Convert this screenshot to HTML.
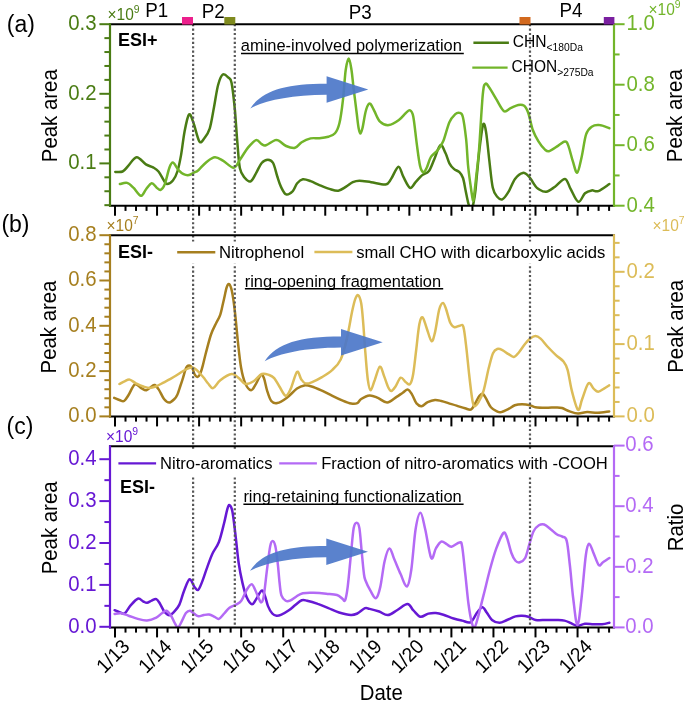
<!DOCTYPE html>
<html><head><meta charset="utf-8"><style>
html,body{margin:0;padding:0;background:#fff;width:685px;height:702px;overflow:hidden}
svg{display:block;font-family:"Liberation Sans",sans-serif;will-change:transform}
</style></head><body>
<svg width="685" height="702" viewBox="0 0 685 702">
<clipPath id="clipa"><rect x="110" y="24.2" width="504" height="181.5"/></clipPath>
<clipPath id="clipb"><rect x="110" y="235.2" width="504" height="181.2"/></clipPath>
<clipPath id="clipc"><rect x="110" y="446.3" width="504" height="181.09999999999997"/></clipPath>
<path d="M115.3,171.9 C116.5,171.8 120.5,172.4 122.6,171.5 C124.7,170.6 125.7,168.6 128.0,166.2 C130.3,163.8 133.6,157.5 136.6,157.2 C139.6,156.9 143.2,162.7 145.9,164.4 C148.7,166.1 151.0,166.2 153.1,167.4 C155.2,168.6 156.7,169.3 158.5,171.5 C160.3,173.7 162.5,178.4 163.9,180.5 C165.3,182.6 165.6,184.1 167.1,184.1 C168.6,184.1 171.2,182.6 172.9,180.5 C174.6,178.4 176.1,175.7 177.4,171.5 C178.8,167.3 179.8,162.0 181.0,155.4 C182.2,148.8 183.2,138.8 184.5,132.0 C185.8,125.2 187.5,116.0 189.0,114.5 C190.5,113.0 191.8,118.5 193.5,123.0 C195.2,127.5 197.6,139.0 199.4,141.5 C201.2,144.0 202.8,140.2 204.5,138.0 C206.2,135.8 208.1,133.6 209.7,128.6 C211.3,123.6 212.5,115.1 213.9,107.8 C215.3,100.5 216.6,90.5 218.1,85.0 C219.6,79.5 221.1,75.8 222.8,74.6 C224.5,73.4 227.0,76.3 228.5,77.7 C230.0,79.1 230.6,77.9 231.6,82.9 C232.6,87.9 233.7,97.8 234.7,107.8 C235.7,117.8 236.5,133.1 237.4,143.2 C238.3,153.3 238.7,162.5 239.9,168.2 C241.1,173.9 242.7,175.3 244.5,177.5 C246.3,179.7 248.7,182.2 250.7,181.3 C252.7,180.4 254.7,175.4 256.5,172.3 C258.3,169.2 259.8,165.1 261.7,163.0 C263.6,160.9 266.0,159.8 267.9,159.8 C269.8,159.8 271.5,160.2 273.1,163.0 C274.7,165.8 276.0,172.5 277.3,176.5 C278.6,180.5 279.5,183.9 281.0,186.9 C282.5,189.9 284.1,193.7 286.1,194.4 C288.1,195.1 291.0,192.9 292.8,191.1 C294.6,189.2 295.5,185.3 297.2,183.3 C298.9,181.3 300.6,179.7 302.8,179.3 C305.0,178.9 307.8,180.1 310.6,181.1 C313.4,182.1 316.3,183.8 319.4,185.1 C322.5,186.4 326.2,188.0 329.4,188.9 C332.5,189.8 335.5,191.1 338.3,190.7 C341.1,190.3 343.7,188.1 346.1,186.7 C348.5,185.3 350.6,183.2 352.8,182.2 C355.0,181.2 356.3,180.7 359.4,180.7 C362.4,180.7 366.7,181.6 371.1,182.2 C375.5,182.8 382.3,184.9 385.6,184.4 C388.9,183.9 389.0,181.9 391.1,178.9 C393.2,175.9 396.4,167.1 398.4,166.7 C400.4,166.3 401.4,173.2 403.3,176.7 C405.2,180.2 407.9,186.9 410.0,187.8 C412.1,188.7 413.6,184.3 415.6,182.2 C417.6,180.1 420.0,176.9 422.2,175.1 C424.4,173.2 426.9,173.8 428.9,171.1 C430.9,168.4 432.5,163.2 434.4,158.9 C436.3,154.6 438.5,146.0 440.4,145.1 C442.3,144.2 444.1,150.3 445.6,153.3 C447.1,156.3 448.0,160.7 449.4,163.3 C450.8,165.9 452.2,167.4 453.9,168.9 C455.6,170.4 457.9,170.7 459.4,172.2 C460.9,173.7 462.0,175.1 463.0,178.0 C464.0,180.9 464.6,185.6 465.5,189.9 C466.4,194.2 467.6,200.8 468.5,204.0 C469.4,207.2 470.2,209.2 471.0,209.0 C471.8,208.8 472.8,206.2 473.5,203.0 C474.2,199.8 474.9,195.5 475.5,190.0 C476.1,184.5 476.6,177.5 477.4,170.0 C478.1,162.5 479.0,152.6 480.0,145.0 C481.0,137.4 482.2,126.5 483.2,124.4 C484.2,122.3 485.1,126.1 486.1,132.2 C487.1,138.3 488.3,151.8 489.4,161.1 C490.5,170.4 491.5,181.9 492.8,187.8 C494.1,193.7 495.6,194.8 497.2,196.7 C498.8,198.6 500.4,200.1 502.3,199.3 C504.2,198.6 506.2,195.6 508.3,192.2 C510.4,188.8 512.6,182.1 515.0,178.9 C517.4,175.7 520.5,173.3 522.8,172.9 C525.1,172.5 527.0,174.6 529.0,176.7 C531.0,178.8 533.5,183.6 535.0,185.6 C536.5,187.6 536.4,187.9 538.3,188.9 C540.1,189.9 543.3,192.2 546.1,191.8 C548.9,191.4 551.9,188.8 555.0,186.7 C558.1,184.5 562.4,178.5 565.0,178.9 C567.6,179.3 568.4,185.1 570.6,188.9 C572.8,192.7 575.9,201.1 578.3,201.8 C580.7,202.5 582.8,195.2 585.0,193.3 C587.2,191.4 589.5,190.8 591.7,190.4 C593.9,190.0 595.3,192.2 598.3,191.1 C601.2,190.0 607.5,185.2 609.4,184.0" fill="none" stroke="#4a7c14" stroke-width="2.5" stroke-linejoin="round" stroke-linecap="round" clip-path="url(#clipa)"/>
<path d="M119.9,184.1 C121.1,183.9 124.8,182.3 127.1,182.9 C129.3,183.5 131.1,185.5 133.4,187.7 C135.7,189.8 138.8,195.5 140.9,195.8 C143.0,196.1 144.1,191.6 145.9,189.5 C147.7,187.4 149.9,183.5 151.7,183.2 C153.5,182.9 155.2,186.6 156.7,187.7 C158.2,188.8 159.3,190.5 160.7,189.9 C162.0,189.3 163.4,187.8 164.8,184.1 C166.2,180.4 168.0,171.6 169.3,168.0 C170.7,164.4 171.4,162.3 172.9,162.6 C174.4,162.9 176.5,167.9 178.3,169.8 C180.1,171.7 181.8,173.3 183.6,174.2 C185.4,175.1 187.2,175.4 189.0,175.1 C190.8,174.8 192.8,173.2 194.4,172.4 C196.0,171.6 196.3,171.9 198.3,170.2 C200.3,168.4 203.8,164.1 206.6,161.9 C209.4,159.8 212.1,157.5 214.9,157.3 C217.7,157.1 220.2,159.2 223.3,160.9 C226.4,162.6 230.8,167.9 233.6,167.7 C236.4,167.5 237.5,163.2 239.9,159.8 C242.3,156.4 245.5,150.7 248.2,147.4 C250.9,144.1 253.9,140.6 256.1,140.1 C258.4,139.6 260.1,143.3 261.7,144.2 C263.3,145.1 263.6,146.0 265.9,145.3 C268.1,144.6 272.9,140.8 275.2,140.1 C277.4,139.4 277.6,140.1 279.4,141.1 C281.2,142.1 283.5,144.9 286.1,146.0 C288.7,147.1 292.4,148.4 295.0,147.8 C297.6,147.2 299.1,143.8 301.7,142.2 C304.3,140.6 307.7,139.1 310.6,138.4 C313.6,137.7 316.4,138.5 319.4,138.2 C322.3,137.9 325.7,137.5 328.3,136.7 C330.9,135.9 333.1,135.5 335.0,133.3 C336.9,131.1 338.1,128.7 339.4,123.3 C340.7,117.9 341.8,110.0 342.8,101.1 C343.9,92.2 344.7,77.1 345.7,70.0 C346.7,62.9 347.8,58.6 348.8,58.6 C349.8,58.6 350.7,65.0 351.5,70.0 C352.3,75.0 352.7,81.2 353.6,88.5 C354.5,95.8 356.0,107.4 356.8,114.0 C357.6,120.6 358.0,124.7 358.6,128.0 C359.2,131.3 359.8,133.6 360.4,133.6 C361.0,133.6 361.7,131.3 362.5,128.0 C363.3,124.7 364.3,117.7 365.1,114.0 C365.9,110.3 366.6,107.7 367.5,106.0 C368.4,104.3 369.2,103.0 370.3,103.8 C371.4,104.6 372.8,108.1 374.4,111.1 C376.0,114.1 377.6,119.3 380.0,121.6 C382.4,123.9 385.8,125.4 388.9,125.1 C392.0,124.8 396.1,122.0 398.9,120.0 C401.7,118.0 403.8,114.9 405.6,113.3 C407.5,111.7 408.7,109.8 410.0,110.4 C411.3,111.0 412.2,111.2 413.3,116.7 C414.4,122.2 415.6,135.2 416.7,143.3 C417.8,151.5 418.9,160.8 420.0,165.6 C421.1,170.4 422.2,171.8 423.3,172.2 C424.4,172.6 425.4,170.4 426.7,167.8 C428.0,165.2 429.2,159.7 431.1,156.7 C433.0,153.7 435.8,152.6 437.8,150.0 C439.8,147.4 441.4,145.7 443.3,141.1 C445.2,136.5 447.4,126.7 449.4,122.2 C451.3,117.8 453.3,116.0 455.0,114.4 C456.7,112.9 458.1,112.5 459.4,112.9 C460.7,113.3 461.7,112.4 462.8,116.7 C463.9,121.0 465.2,130.9 466.1,138.9 C467.0,146.9 467.3,157.2 468.0,164.9 C468.7,172.6 469.7,179.0 470.5,184.9 C471.3,190.8 472.4,199.2 473.0,200.5 C473.6,201.8 473.8,197.1 474.4,192.8 C475.0,188.5 475.6,182.0 476.4,174.9 C477.2,167.8 477.9,163.4 479.0,150.0 C480.1,136.6 481.7,105.4 482.8,94.4 C483.9,83.4 484.3,84.9 485.4,83.8 C486.5,82.7 487.6,85.3 489.4,87.8 C491.2,90.3 493.7,95.0 496.1,98.9 C498.5,102.8 501.5,109.5 503.9,111.1 C506.3,112.6 508.2,109.2 510.6,108.2 C513.0,107.2 516.1,105.3 518.3,104.9 C520.5,104.5 522.2,104.2 523.9,105.6 C525.6,106.9 526.8,108.9 528.3,113.0 C529.8,117.1 531.1,125.3 532.8,130.0 C534.5,134.7 536.3,137.8 538.3,141.1 C540.3,144.4 543.1,147.9 545.0,149.6 C546.9,151.3 547.2,151.8 549.4,151.1 C551.6,150.4 555.7,147.2 558.3,145.6 C560.9,144.0 563.3,141.6 565.0,141.6 C566.7,141.6 567.0,142.3 568.3,145.6 C569.6,148.8 571.3,156.6 572.8,161.1 C574.3,165.6 575.7,173.4 577.2,172.7 C578.7,172.0 580.2,163.1 581.7,156.7 C583.2,150.3 584.4,139.4 586.1,134.4 C587.8,129.4 589.5,128.2 591.7,126.7 C593.9,125.2 596.5,124.8 599.4,125.1 C602.3,125.3 607.7,127.7 609.4,128.2" fill="none" stroke="#72b52a" stroke-width="2.5" stroke-linejoin="round" stroke-linecap="round" clip-path="url(#clipa)"/>
<path d="M114.2,397.9 C115.1,398.2 117.8,399.5 119.4,400.0 C121.1,400.5 122.5,401.9 124.1,401.0 C125.6,400.1 126.9,397.6 128.7,394.8 C130.5,392.0 132.8,385.5 134.9,384.4 C137.0,383.3 139.3,387.1 141.2,388.1 C143.1,389.1 144.7,390.5 146.4,390.2 C148.1,389.9 150.2,387.4 151.6,386.5 C153.0,385.6 153.5,384.5 154.7,385.0 C155.9,385.5 157.2,387.3 158.8,389.6 C160.4,391.9 162.3,396.9 164.0,399.0 C165.7,401.1 167.5,402.5 169.2,402.5 C170.9,402.5 173.1,400.2 174.4,399.0 C175.7,397.8 176.2,397.2 177.2,395.0 C178.2,392.8 179.5,388.4 180.5,385.5 C181.5,382.6 182.3,380.2 183.1,377.6 C183.9,375.0 184.7,371.6 185.4,369.7 C186.1,367.8 186.5,367.1 187.1,366.4 C187.7,365.7 188.4,365.4 189.1,365.4 C189.8,365.4 190.3,365.7 191.0,366.4 C191.7,367.1 192.4,368.4 193.0,369.7 C193.6,371.0 193.9,373.1 194.6,374.3 C195.3,375.5 196.5,376.8 197.3,376.9 C198.1,377.0 198.9,376.0 199.6,375.0 C200.2,374.0 200.6,372.6 201.2,371.0 C201.8,369.4 202.1,368.1 202.9,365.1 C203.7,362.1 204.5,358.3 205.8,353.2 C207.2,348.1 209.3,339.5 211.0,334.5 C212.7,329.5 214.6,326.3 216.2,323.0 C217.8,319.7 219.1,318.3 220.3,314.7 C221.5,311.1 222.4,305.7 223.5,301.2 C224.6,296.7 225.7,290.5 226.6,287.7 C227.5,284.9 228.2,283.6 229.1,284.1 C230.0,284.6 230.8,286.2 231.8,290.8 C232.8,295.4 233.9,302.9 234.9,311.6 C235.9,320.3 237.0,333.4 238.0,342.8 C239.0,352.2 239.9,361.0 241.1,367.8 C242.3,374.6 243.6,379.7 245.3,383.4 C247.0,387.1 249.4,390.0 251.1,390.2 C252.8,390.4 254.1,386.9 255.7,384.4 C257.3,381.9 259.5,376.0 260.9,375.0 C262.3,374.0 263.0,375.6 264.0,378.2 C265.0,380.8 265.9,386.8 267.1,390.6 C268.3,394.4 269.6,398.9 271.3,401.0 C273.0,403.1 274.8,403.6 277.3,403.1 C279.9,402.6 283.3,400.3 286.6,397.9 C289.9,395.5 294.1,390.7 297.0,388.6 C299.9,386.5 301.9,385.8 304.3,385.4 C306.7,385.0 308.7,385.6 311.6,386.5 C314.6,387.4 318.5,389.1 322.0,390.6 C325.5,392.2 328.9,394.1 332.4,395.8 C335.8,397.5 339.6,399.3 342.7,400.6 C345.8,401.9 348.7,403.1 351.1,403.5 C353.5,403.9 355.6,403.9 357.3,403.1 C359.0,402.4 359.1,400.3 361.2,399.0 C363.2,397.7 366.8,395.6 369.6,395.4 C372.4,395.2 375.0,396.7 377.9,397.9 C380.8,399.1 384.1,402.7 387.2,402.5 C390.3,402.3 394.0,398.5 396.6,396.9 C399.2,395.3 400.9,393.9 402.8,392.7 C404.7,391.5 406.4,389.2 408.0,389.6 C409.6,390.0 410.8,392.6 412.2,394.8 C413.6,397.1 414.8,401.2 416.3,403.1 C417.9,405.0 419.6,406.4 421.5,406.2 C423.4,406.0 425.4,403.1 427.7,402.1 C429.9,401.1 432.7,400.2 435.0,400.0 C437.3,399.8 439.1,400.5 441.3,401.0 C443.5,401.5 445.8,402.3 448.3,403.1 C450.9,403.9 453.8,404.7 456.6,405.6 C459.4,406.5 462.6,407.7 465.0,408.3 C467.4,408.9 469.5,410.3 471.2,409.4 C472.9,408.5 473.9,405.4 475.3,403.1 C476.7,400.8 478.3,397.4 479.5,395.8 C480.7,394.2 481.6,393.5 482.6,393.8 C483.6,394.1 484.3,395.6 485.7,397.9 C487.1,400.1 489.0,405.1 490.9,407.3 C492.8,409.6 495.5,410.6 497.2,411.4 C498.9,412.2 499.4,412.5 501.3,412.1 C503.2,411.7 506.4,410.0 508.6,408.9 C510.9,407.8 512.5,406.0 514.8,405.2 C517.0,404.4 519.6,404.2 522.1,404.2 C524.6,404.2 527.8,404.7 530.0,405.2 C532.2,405.7 532.8,406.9 535.4,407.3 C538.0,407.7 542.3,407.8 545.8,407.8 C549.3,407.8 553.5,407.4 556.2,407.4 C558.9,407.4 559.8,407.3 562.0,408.0 C564.2,408.7 567.0,410.5 569.7,411.4 C572.4,412.3 575.0,413.4 578.0,413.5 C581.0,413.6 584.1,412.2 587.4,412.1 C590.7,412.0 594.1,412.8 597.7,412.7 C601.3,412.6 607.3,411.6 609.2,411.4" fill="none" stroke="#a67f1f" stroke-width="2.5" stroke-linejoin="round" stroke-linecap="round" clip-path="url(#clipb)"/>
<path d="M119.4,384.0 C120.2,383.6 122.8,382.0 124.5,381.3 C126.2,380.6 127.8,379.2 129.7,379.6 C131.6,380.0 133.7,382.2 136.0,383.4 C138.3,384.5 141.1,385.8 143.3,386.5 C145.6,387.2 147.4,387.9 149.5,387.9 C151.6,387.9 153.3,387.4 155.7,386.5 C158.1,385.6 161.6,383.5 164.0,382.3 C166.4,381.1 167.9,380.4 170.0,379.2 C172.1,378.0 174.4,376.7 176.6,375.3 C178.8,373.9 181.0,372.2 183.1,371.0 C185.2,369.8 187.4,368.7 189.1,368.1 C190.8,367.6 191.8,367.4 193.0,367.7 C194.2,368.0 195.2,368.8 196.3,369.7 C197.4,370.6 198.3,371.6 199.6,373.0 C200.9,374.4 202.8,376.6 204.2,378.3 C205.6,380.1 206.6,381.9 208.1,383.5 C209.6,385.1 211.1,388.7 213.1,388.1 C215.1,387.6 217.2,382.6 220.3,380.2 C223.4,377.8 228.7,374.3 231.8,374.0 C234.9,373.7 236.8,376.5 239.0,378.2 C241.2,379.9 242.9,383.5 245.3,384.0 C247.7,384.5 250.8,383.0 253.6,381.3 C256.4,379.6 259.3,375.1 261.9,374.0 C264.5,372.9 267.1,374.3 269.2,375.0 C271.2,375.7 272.5,376.3 274.2,378.2 C275.9,380.1 277.5,383.6 279.4,386.5 C281.3,389.4 283.7,395.4 285.6,395.8 C287.5,396.2 288.9,392.6 290.8,388.6 C292.7,384.6 295.3,373.5 297.0,371.9 C298.7,370.3 299.8,377.3 301.2,379.2 C302.6,381.1 303.6,382.9 305.3,383.4 C307.0,383.9 308.8,383.4 311.6,382.3 C314.4,381.2 318.5,379.2 322.0,377.1 C325.5,375.0 329.3,372.8 332.4,369.8 C335.5,366.9 338.3,364.6 340.7,359.4 C343.1,354.2 345.0,346.6 346.9,338.6 C348.8,330.6 350.7,318.2 352.1,311.6 C353.5,305.0 354.2,301.8 355.2,299.1 C356.2,296.4 357.2,294.5 358.2,295.2 C359.2,295.9 360.3,298.5 361.2,303.3 C362.1,308.1 362.6,315.8 363.3,324.1 C364.0,332.4 364.6,343.9 365.4,353.2 C366.2,362.5 367.0,374.0 367.9,380.2 C368.8,386.4 369.5,390.2 370.6,390.2 C371.7,390.2 373.1,384.1 374.7,380.2 C376.2,376.3 378.3,367.4 379.9,366.7 C381.5,366.0 382.7,372.6 384.1,376.1 C385.5,379.6 387.1,385.0 388.3,387.5 C389.5,390.0 390.2,391.2 391.4,391.0 C392.6,390.8 393.9,388.7 395.5,386.5 C397.1,384.3 399.0,378.4 400.7,377.7 C402.4,377.0 404.3,381.2 405.9,382.3 C407.5,383.4 408.9,385.4 410.1,384.0 C411.3,382.6 412.2,379.8 413.2,374.0 C414.2,368.2 415.3,357.3 416.3,349.0 C417.3,340.7 418.3,329.4 419.4,324.1 C420.4,318.8 421.4,316.7 422.6,317.4 C423.8,318.1 425.2,324.2 426.7,328.2 C428.2,332.1 430.1,340.4 431.5,341.1 C432.9,341.8 433.7,337.7 435.0,332.4 C436.3,327.1 437.9,314.4 439.2,309.5 C440.5,304.6 441.8,302.9 443.0,302.9 C444.2,302.9 445.0,306.1 446.2,309.5 C447.4,312.9 449.0,320.1 450.4,323.0 C451.8,325.9 452.9,326.8 454.5,327.2 C456.1,327.6 458.2,325.8 459.7,325.7 C461.2,325.6 462.2,323.4 463.3,326.6 C464.4,329.8 465.0,337.0 466.0,344.9 C467.0,352.8 468.1,365.0 469.1,374.0 C470.1,383.0 471.3,393.6 472.2,399.0 C473.1,404.4 473.2,405.7 474.3,406.2 C475.4,406.7 476.9,404.7 478.5,402.1 C480.1,399.5 481.9,396.3 483.6,390.6 C485.3,384.9 487.2,374.0 488.8,367.8 C490.4,361.6 491.6,356.3 493.0,353.2 C494.4,350.1 495.6,349.5 497.2,349.0 C498.8,348.5 500.5,349.2 502.4,350.1 C504.3,351.0 506.7,353.1 508.6,354.2 C510.5,355.3 512.1,357.2 513.8,356.9 C515.5,356.6 517.1,354.4 519.0,352.2 C520.9,350.0 523.3,346.1 525.2,343.8 C527.1,341.5 528.5,339.9 530.2,338.6 C531.9,337.3 533.7,336.1 535.4,336.1 C537.1,336.1 538.5,336.8 540.6,338.6 C542.7,340.4 545.3,344.2 547.9,347.0 C550.5,349.8 553.6,352.9 556.2,355.3 C558.8,357.7 561.6,359.1 563.5,361.5 C565.4,363.9 566.2,364.9 567.6,369.8 C569.0,374.7 570.1,383.9 571.8,390.6 C573.5,397.3 576.3,408.4 578.0,409.8 C579.7,411.2 580.5,403.4 582.2,399.0 C583.9,394.6 586.5,385.1 588.4,383.4 C590.3,381.7 592.0,387.2 593.6,388.6 C595.2,390.0 596.5,391.7 598.2,391.7 C599.9,391.7 602.2,389.7 604.0,388.6 C605.8,387.6 608.3,385.9 609.2,385.4" fill="none" stroke="#dcbc58" stroke-width="2.5" stroke-linejoin="round" stroke-linecap="round" clip-path="url(#clipb)"/>
<path d="M114.6,610.2 C115.5,610.6 118.5,611.9 120.2,612.4 C121.9,612.9 123.1,614.4 124.8,613.3 C126.5,612.2 128.2,608.0 130.4,605.6 C132.6,603.2 135.7,599.4 137.8,598.7 C140.0,598.0 141.8,600.8 143.3,601.5 C144.8,602.2 145.6,602.9 147.0,602.8 C148.4,602.6 150.1,601.2 151.7,600.6 C153.2,600.0 154.9,598.6 156.3,599.1 C157.7,599.6 158.6,601.6 160.0,603.7 C161.4,605.9 163.0,610.1 164.6,612.0 C166.2,613.9 167.8,615.2 169.3,615.2 C170.9,615.2 172.2,613.8 173.9,612.0 C175.6,610.2 177.7,608.1 179.4,604.6 C181.1,601.1 182.4,594.9 184.1,590.7 C185.8,586.5 187.9,579.9 189.6,579.3 C191.3,578.6 192.9,585.0 194.3,586.8 C195.7,588.6 196.8,590.7 198.1,590.0 C199.3,589.3 200.3,586.3 201.8,582.6 C203.3,578.9 205.3,572.4 207.1,567.6 C208.9,562.8 210.4,558.0 212.4,553.7 C214.4,549.4 216.9,547.2 218.9,542.0 C220.9,536.8 222.8,528.2 224.2,522.7 C225.6,517.2 226.5,511.7 227.4,508.8 C228.3,505.9 228.7,504.8 229.5,505.2 C230.3,505.6 231.3,506.3 232.3,511.0 C233.3,515.7 234.2,524.7 235.3,533.4 C236.4,542.1 237.5,555.1 238.7,563.3 C239.9,571.5 241.1,577.0 242.4,582.6 C243.7,588.2 245.0,593.4 246.6,597.0 C248.2,600.6 250.4,604.0 252.0,604.3 C253.6,604.6 254.7,601.3 256.3,599.0 C257.9,596.7 260.2,591.3 261.6,590.7 C263.0,590.1 263.7,592.8 264.8,595.4 C265.9,598.0 266.8,603.1 268.0,606.1 C269.2,609.1 270.9,611.9 272.3,613.5 C273.7,615.1 275.1,615.5 276.6,615.7 C278.1,615.9 279.3,615.5 281.4,614.6 C283.4,613.7 286.6,611.9 288.9,610.3 C291.2,608.7 293.2,606.7 295.3,605.0 C297.4,603.3 299.7,601.0 301.7,600.3 C303.7,599.6 304.4,600.1 307.1,600.7 C309.8,601.3 314.2,602.6 317.8,603.9 C321.4,605.1 324.8,606.8 328.4,608.2 C331.9,609.6 335.4,611.4 339.1,612.5 C342.9,613.6 347.9,614.8 350.9,615.0 C353.9,615.2 354.9,614.6 357.3,613.5 C359.7,612.4 362.9,609.0 365.0,608.2 C367.1,607.4 367.2,608.4 369.6,608.9 C372.0,609.4 376.2,610.5 379.2,611.5 C382.2,612.5 384.8,615.4 387.8,615.1 C390.8,614.9 394.1,611.9 397.4,610.0 C400.7,608.1 404.8,603.9 407.5,604.0 C410.2,604.1 411.2,608.3 413.4,610.4 C415.6,612.5 418.0,616.3 420.5,616.8 C423.0,617.3 425.8,614.2 428.4,613.6 C431.0,613.0 433.4,612.8 435.9,613.0 C438.4,613.2 440.4,613.8 443.4,614.7 C446.3,615.6 450.5,617.5 453.6,618.5 C456.7,619.5 459.2,620.0 462.1,620.6 C465.0,621.2 468.2,623.5 470.7,622.1 C473.2,620.8 475.2,615.0 477.1,612.5 C479.1,610.0 480.8,607.2 482.4,607.2 C484.0,607.2 485.1,610.4 486.7,612.5 C488.3,614.6 489.9,618.3 492.0,620.0 C494.1,621.7 497.0,622.8 499.5,622.8 C502.0,622.8 504.3,621.1 507.0,620.0 C509.7,618.9 513.0,617.1 515.5,616.4 C518.0,615.7 519.9,615.6 522.0,615.7 C524.1,615.8 526.1,616.1 528.4,616.8 C530.7,617.5 532.7,619.5 535.7,620.0 C538.7,620.5 542.8,620.0 546.4,620.0 C550.0,620.0 554.1,619.9 557.1,620.0 C560.1,620.1 562.2,620.1 564.5,620.6 C566.8,621.1 568.9,622.3 571.0,623.2 C573.1,624.1 575.1,625.8 577.4,625.9 C579.7,626.0 582.2,624.1 584.9,623.8 C587.6,623.5 590.5,624.1 593.4,624.2 C596.2,624.3 599.3,624.5 602.0,624.2 C604.7,624.0 608.2,623.0 609.4,622.7" fill="none" stroke="#6618d4" stroke-width="2.5" stroke-linejoin="round" stroke-linecap="round" clip-path="url(#clipc)"/>
<path d="M114.6,613.9 C115.7,613.8 118.8,613.0 121.1,613.3 C123.4,613.6 125.7,614.8 128.5,615.7 C131.3,616.6 134.7,618.1 137.8,618.9 C140.9,619.7 143.9,620.6 147.0,620.4 C150.1,620.2 153.8,618.8 156.3,617.6 C158.8,616.4 160.2,614.4 161.9,613.3 C163.6,612.1 165.0,610.3 166.5,610.7 C168.0,611.1 169.7,613.6 171.1,615.7 C172.5,617.8 173.6,621.2 174.8,623.1 C176.0,625.0 176.9,627.9 178.1,627.4 C179.3,626.9 180.9,622.8 182.2,620.4 C183.5,618.0 184.6,614.6 185.9,613.0 C187.2,611.4 188.6,610.6 190.0,610.7 C191.4,610.8 192.9,612.9 194.3,613.8 C195.7,614.7 197.0,616.1 198.6,616.3 C200.2,616.5 202.1,615.3 203.9,615.0 C205.7,614.7 207.4,614.3 209.2,614.6 C211.0,614.9 213.0,616.1 214.6,616.8 C216.2,617.5 217.3,619.4 218.9,618.9 C220.5,618.4 222.4,615.4 224.2,613.5 C226.0,611.6 227.5,609.3 229.5,607.8 C231.5,606.3 234.0,605.8 236.0,604.6 C238.0,603.4 239.5,603.1 241.3,600.7 C243.1,598.3 244.9,592.7 246.6,590.0 C248.3,587.3 250.2,584.3 251.6,584.3 C253.0,584.3 254.1,587.8 255.2,590.0 C256.3,592.2 257.4,595.4 258.4,597.5 C259.4,599.6 260.3,602.6 261.2,602.4 C262.1,602.2 262.7,602.0 263.7,596.5 C264.7,591.0 265.9,578.1 267.0,569.7 C268.1,561.3 269.2,551.0 270.2,546.2 C271.1,541.4 271.8,540.9 272.7,540.9 C273.6,540.9 274.5,542.5 275.3,546.0 C276.1,549.5 276.9,556.0 277.6,562.0 C278.3,568.0 278.9,576.4 279.5,582.0 C280.1,587.6 280.4,592.3 281.4,595.4 C282.4,598.5 284.3,599.8 285.7,600.7 C287.1,601.6 288.2,601.4 290.0,600.7 C291.8,600.0 294.3,597.8 296.4,596.5 C298.5,595.2 299.9,593.8 302.8,593.2 C305.7,592.6 309.6,592.7 313.5,592.8 C317.4,592.9 322.4,593.3 326.3,593.7 C330.2,594.1 334.3,594.2 337.0,595.0 C339.7,595.8 340.9,597.7 342.3,598.6 C343.7,599.5 344.2,602.3 345.1,600.3 C346.0,598.3 346.7,594.4 347.7,586.8 C348.7,579.2 349.9,564.6 350.9,554.8 C351.9,545.0 352.7,533.5 353.7,528.1 C354.7,522.8 355.8,522.7 356.7,522.7 C357.6,522.7 358.6,523.5 359.4,528.1 C360.2,532.7 360.9,543.2 361.6,550.5 C362.3,557.8 363.1,567.0 363.7,571.9 C364.3,576.8 364.1,576.8 365.3,580.0 C366.5,583.2 368.9,588.2 370.7,591.2 C372.5,594.2 374.4,598.9 376.0,598.2 C377.6,597.5 378.9,593.1 380.3,586.9 C381.7,580.7 383.1,567.6 384.6,561.2 C386.1,554.8 387.9,548.8 389.5,548.4 C391.1,548.0 392.3,554.8 394.2,559.1 C396.1,563.4 398.5,569.5 400.6,574.1 C402.7,578.7 405.2,587.2 407.0,586.5 C408.8,585.8 409.9,579.3 411.3,569.8 C412.7,560.2 414.1,538.7 415.6,529.2 C417.1,519.7 418.9,512.7 420.5,512.7 C422.1,512.7 423.4,521.7 425.2,529.2 C427.0,536.8 429.4,554.8 431.2,558.0 C433.0,561.2 434.2,551.1 435.9,548.4 C437.6,545.7 439.4,542.3 441.2,541.6 C443.0,540.9 444.9,543.2 446.6,544.1 C448.3,545.0 449.2,547.0 451.4,546.7 C453.5,546.4 457.7,542.5 459.5,542.4 C461.3,542.3 461.1,541.0 462.1,546.3 C463.1,551.6 464.2,564.5 465.3,574.1 C466.4,583.7 467.4,596.0 468.5,604.0 C469.6,612.0 470.7,618.3 471.7,622.2 C472.7,626.1 473.4,628.4 474.5,627.5 C475.6,626.6 476.6,622.1 478.1,616.8 C479.6,611.4 481.5,603.2 483.5,595.4 C485.5,587.6 487.8,577.6 489.9,569.8 C492.0,562.0 494.1,554.5 496.3,548.4 C498.6,542.3 501.6,534.8 503.4,533.0 C505.2,531.2 505.7,534.4 507.0,537.7 C508.3,541.0 509.9,548.9 511.3,552.7 C512.7,556.6 514.1,559.2 515.5,560.8 C516.9,562.4 518.2,562.8 519.8,562.3 C521.4,561.8 523.6,561.0 525.2,558.0 C526.8,555.0 528.0,548.6 529.4,544.1 C530.8,539.6 532.0,534.4 533.6,531.3 C535.2,528.2 537.1,526.4 538.9,525.3 C540.7,524.2 542.2,523.9 544.2,524.5 C546.2,525.1 548.6,527.5 550.7,529.2 C552.9,530.9 555.2,533.3 557.1,534.5 C559.0,535.7 560.8,535.5 562.4,536.6 C564.0,537.7 565.5,536.1 566.7,540.9 C568.0,545.7 568.8,556.1 569.9,565.5 C571.0,574.9 571.9,587.5 573.1,597.5 C574.4,607.5 576.0,625.4 577.4,625.4 C578.8,625.4 580.2,609.3 581.6,597.5 C583.0,585.7 584.6,563.8 585.9,554.8 C587.1,545.8 587.9,544.1 589.1,543.7 C590.4,543.4 591.8,549.1 593.4,552.7 C595.0,556.3 597.2,563.5 598.8,565.1 C600.4,566.7 601.2,563.5 603.0,562.3 C604.8,561.1 608.3,558.7 609.4,558.0" fill="none" stroke="#b46af5" stroke-width="2.5" stroke-linejoin="round" stroke-linecap="round" clip-path="url(#clipc)"/>
<path transform="translate(250.3,108.4)" d="M0,0 C12,-18 35,-24.7 76.3,-24.7 L76.3,-32.2 L118,-19 L76.3,-5.7 L76.3,-13.6 C40,-13.2 15,-8 0,0 Z" fill="#4c77c9" fill-opacity="0.92"/>
<path transform="translate(264.7,361.2)" d="M0,0 C12,-18 35,-24.7 76.3,-24.7 L76.3,-32.2 L118,-19 L76.3,-5.7 L76.3,-13.6 C40,-13.2 15,-8 0,0 Z" fill="#4c77c9" fill-opacity="0.92"/>
<path transform="translate(250,570.8)" d="M0,0 C12,-18 35,-24.7 76.3,-24.7 L76.3,-32.2 L118,-19 L76.3,-5.7 L76.3,-13.6 C40,-13.2 15,-8 0,0 Z" fill="#4c77c9" fill-opacity="0.92"/>
<line x1="193.10" y1="24.20" x2="193.10" y2="627.40" stroke="#575757" stroke-width="2.2" stroke-dasharray="2.1 2.3"/>
<line x1="234.80" y1="24.20" x2="234.80" y2="627.40" stroke="#575757" stroke-width="2.2" stroke-dasharray="2.1 2.3"/>
<line x1="530.00" y1="24.20" x2="530.00" y2="627.40" stroke="#575757" stroke-width="2.2" stroke-dasharray="2.1 2.3"/>
<rect x="172" y="241.5" width="440" height="22.3" fill="#fff"/>
<rect x="116" y="450.5" width="495" height="24.5" fill="#fff"/>
<line x1="109.00" y1="24.20" x2="615.00" y2="24.20" stroke="#000" stroke-width="2" />
<line x1="109.00" y1="205.70" x2="615.00" y2="205.70" stroke="#000" stroke-width="2" />
<line x1="115.00" y1="205.70" x2="115.00" y2="215.70" stroke="#000" stroke-width="2" />
<line x1="125.51" y1="205.70" x2="125.51" y2="210.90" stroke="#000" stroke-width="2" />
<line x1="136.03" y1="205.70" x2="136.03" y2="210.90" stroke="#000" stroke-width="2" />
<line x1="146.54" y1="205.70" x2="146.54" y2="210.90" stroke="#000" stroke-width="2" />
<line x1="157.05" y1="205.70" x2="157.05" y2="215.70" stroke="#000" stroke-width="2" />
<line x1="167.56" y1="205.70" x2="167.56" y2="210.90" stroke="#000" stroke-width="2" />
<line x1="178.07" y1="205.70" x2="178.07" y2="210.90" stroke="#000" stroke-width="2" />
<line x1="188.59" y1="205.70" x2="188.59" y2="210.90" stroke="#000" stroke-width="2" />
<line x1="199.10" y1="205.70" x2="199.10" y2="215.70" stroke="#000" stroke-width="2" />
<line x1="209.61" y1="205.70" x2="209.61" y2="210.90" stroke="#000" stroke-width="2" />
<line x1="220.12" y1="205.70" x2="220.12" y2="210.90" stroke="#000" stroke-width="2" />
<line x1="230.64" y1="205.70" x2="230.64" y2="210.90" stroke="#000" stroke-width="2" />
<line x1="241.15" y1="205.70" x2="241.15" y2="215.70" stroke="#000" stroke-width="2" />
<line x1="251.66" y1="205.70" x2="251.66" y2="210.90" stroke="#000" stroke-width="2" />
<line x1="262.17" y1="205.70" x2="262.17" y2="210.90" stroke="#000" stroke-width="2" />
<line x1="272.69" y1="205.70" x2="272.69" y2="210.90" stroke="#000" stroke-width="2" />
<line x1="283.20" y1="205.70" x2="283.20" y2="215.70" stroke="#000" stroke-width="2" />
<line x1="293.71" y1="205.70" x2="293.71" y2="210.90" stroke="#000" stroke-width="2" />
<line x1="304.23" y1="205.70" x2="304.23" y2="210.90" stroke="#000" stroke-width="2" />
<line x1="314.74" y1="205.70" x2="314.74" y2="210.90" stroke="#000" stroke-width="2" />
<line x1="325.25" y1="205.70" x2="325.25" y2="215.70" stroke="#000" stroke-width="2" />
<line x1="335.76" y1="205.70" x2="335.76" y2="210.90" stroke="#000" stroke-width="2" />
<line x1="346.27" y1="205.70" x2="346.27" y2="210.90" stroke="#000" stroke-width="2" />
<line x1="356.79" y1="205.70" x2="356.79" y2="210.90" stroke="#000" stroke-width="2" />
<line x1="367.30" y1="205.70" x2="367.30" y2="215.70" stroke="#000" stroke-width="2" />
<line x1="377.81" y1="205.70" x2="377.81" y2="210.90" stroke="#000" stroke-width="2" />
<line x1="388.32" y1="205.70" x2="388.32" y2="210.90" stroke="#000" stroke-width="2" />
<line x1="398.84" y1="205.70" x2="398.84" y2="210.90" stroke="#000" stroke-width="2" />
<line x1="409.35" y1="205.70" x2="409.35" y2="215.70" stroke="#000" stroke-width="2" />
<line x1="419.86" y1="205.70" x2="419.86" y2="210.90" stroke="#000" stroke-width="2" />
<line x1="430.38" y1="205.70" x2="430.38" y2="210.90" stroke="#000" stroke-width="2" />
<line x1="440.89" y1="205.70" x2="440.89" y2="210.90" stroke="#000" stroke-width="2" />
<line x1="451.40" y1="205.70" x2="451.40" y2="215.70" stroke="#000" stroke-width="2" />
<line x1="461.91" y1="205.70" x2="461.91" y2="210.90" stroke="#000" stroke-width="2" />
<line x1="472.42" y1="205.70" x2="472.42" y2="210.90" stroke="#000" stroke-width="2" />
<line x1="482.94" y1="205.70" x2="482.94" y2="210.90" stroke="#000" stroke-width="2" />
<line x1="493.45" y1="205.70" x2="493.45" y2="215.70" stroke="#000" stroke-width="2" />
<line x1="503.96" y1="205.70" x2="503.96" y2="210.90" stroke="#000" stroke-width="2" />
<line x1="514.47" y1="205.70" x2="514.47" y2="210.90" stroke="#000" stroke-width="2" />
<line x1="524.99" y1="205.70" x2="524.99" y2="210.90" stroke="#000" stroke-width="2" />
<line x1="535.50" y1="205.70" x2="535.50" y2="215.70" stroke="#000" stroke-width="2" />
<line x1="546.01" y1="205.70" x2="546.01" y2="210.90" stroke="#000" stroke-width="2" />
<line x1="556.52" y1="205.70" x2="556.52" y2="210.90" stroke="#000" stroke-width="2" />
<line x1="567.04" y1="205.70" x2="567.04" y2="210.90" stroke="#000" stroke-width="2" />
<line x1="577.55" y1="205.70" x2="577.55" y2="215.70" stroke="#000" stroke-width="2" />
<line x1="588.06" y1="205.70" x2="588.06" y2="210.90" stroke="#000" stroke-width="2" />
<line x1="598.58" y1="205.70" x2="598.58" y2="210.90" stroke="#000" stroke-width="2" />
<line x1="609.09" y1="205.70" x2="609.09" y2="210.90" stroke="#000" stroke-width="2" />
<line x1="110.00" y1="23.20" x2="110.00" y2="206.70" stroke="#4a7c14" stroke-width="2.2" />
<line x1="99.40" y1="163.40" x2="110.00" y2="163.40" stroke="#4a7c14" stroke-width="2" />
<text transform="translate(96.50 169.20) scale(1 1.04)" font-size="20.4" fill="#4a7c14" text-anchor="end" font-weight="normal" >0.1</text>
<line x1="99.40" y1="93.80" x2="110.00" y2="93.80" stroke="#4a7c14" stroke-width="2" />
<text transform="translate(96.50 99.60) scale(1 1.04)" font-size="20.4" fill="#4a7c14" text-anchor="end" font-weight="normal" >0.2</text>
<line x1="99.40" y1="24.20" x2="110.00" y2="24.20" stroke="#4a7c14" stroke-width="2" />
<text transform="translate(96.50 30.00) scale(1 1.04)" font-size="20.4" fill="#4a7c14" text-anchor="end" font-weight="normal" >0.3</text>
<line x1="104.40" y1="205.16" x2="110.00" y2="205.16" stroke="#4a7c14" stroke-width="2" />
<line x1="104.40" y1="191.24" x2="110.00" y2="191.24" stroke="#4a7c14" stroke-width="2" />
<line x1="104.40" y1="177.32" x2="110.00" y2="177.32" stroke="#4a7c14" stroke-width="2" />
<line x1="104.40" y1="149.48" x2="110.00" y2="149.48" stroke="#4a7c14" stroke-width="2" />
<line x1="104.40" y1="135.56" x2="110.00" y2="135.56" stroke="#4a7c14" stroke-width="2" />
<line x1="104.40" y1="121.64" x2="110.00" y2="121.64" stroke="#4a7c14" stroke-width="2" />
<line x1="104.40" y1="107.72" x2="110.00" y2="107.72" stroke="#4a7c14" stroke-width="2" />
<line x1="104.40" y1="79.88" x2="110.00" y2="79.88" stroke="#4a7c14" stroke-width="2" />
<line x1="104.40" y1="65.96" x2="110.00" y2="65.96" stroke="#4a7c14" stroke-width="2" />
<line x1="104.40" y1="52.04" x2="110.00" y2="52.04" stroke="#4a7c14" stroke-width="2" />
<line x1="104.40" y1="38.12" x2="110.00" y2="38.12" stroke="#4a7c14" stroke-width="2" />
<line x1="614.00" y1="23.20" x2="614.00" y2="206.70" stroke="#72b52a" stroke-width="2.2" />
<line x1="614.00" y1="205.70" x2="624.60" y2="205.70" stroke="#72b52a" stroke-width="2" />
<text transform="translate(626.50 211.50) scale(1 1.04)" font-size="20.4" fill="#72b52a" text-anchor="start" font-weight="normal" >0.4</text>
<line x1="614.00" y1="145.20" x2="624.60" y2="145.20" stroke="#72b52a" stroke-width="2" />
<text transform="translate(626.50 151.00) scale(1 1.04)" font-size="20.4" fill="#72b52a" text-anchor="start" font-weight="normal" >0.6</text>
<line x1="614.00" y1="84.70" x2="624.60" y2="84.70" stroke="#72b52a" stroke-width="2" />
<text transform="translate(626.50 90.50) scale(1 1.04)" font-size="20.4" fill="#72b52a" text-anchor="start" font-weight="normal" >0.8</text>
<line x1="614.00" y1="24.20" x2="624.60" y2="24.20" stroke="#72b52a" stroke-width="2" />
<text transform="translate(626.50 30.00) scale(1 1.04)" font-size="20.4" fill="#72b52a" text-anchor="start" font-weight="normal" >1.0</text>
<line x1="614.00" y1="175.45" x2="619.60" y2="175.45" stroke="#72b52a" stroke-width="2" />
<line x1="614.00" y1="114.95" x2="619.60" y2="114.95" stroke="#72b52a" stroke-width="2" />
<line x1="614.00" y1="54.45" x2="619.60" y2="54.45" stroke="#72b52a" stroke-width="2" />
<line x1="109.00" y1="235.20" x2="615.00" y2="235.20" stroke="#000" stroke-width="2" />
<line x1="109.00" y1="416.40" x2="615.00" y2="416.40" stroke="#000" stroke-width="2" />
<line x1="115.00" y1="416.40" x2="115.00" y2="426.40" stroke="#000" stroke-width="2" />
<line x1="125.51" y1="416.40" x2="125.51" y2="421.60" stroke="#000" stroke-width="2" />
<line x1="136.03" y1="416.40" x2="136.03" y2="421.60" stroke="#000" stroke-width="2" />
<line x1="146.54" y1="416.40" x2="146.54" y2="421.60" stroke="#000" stroke-width="2" />
<line x1="157.05" y1="416.40" x2="157.05" y2="426.40" stroke="#000" stroke-width="2" />
<line x1="167.56" y1="416.40" x2="167.56" y2="421.60" stroke="#000" stroke-width="2" />
<line x1="178.07" y1="416.40" x2="178.07" y2="421.60" stroke="#000" stroke-width="2" />
<line x1="188.59" y1="416.40" x2="188.59" y2="421.60" stroke="#000" stroke-width="2" />
<line x1="199.10" y1="416.40" x2="199.10" y2="426.40" stroke="#000" stroke-width="2" />
<line x1="209.61" y1="416.40" x2="209.61" y2="421.60" stroke="#000" stroke-width="2" />
<line x1="220.12" y1="416.40" x2="220.12" y2="421.60" stroke="#000" stroke-width="2" />
<line x1="230.64" y1="416.40" x2="230.64" y2="421.60" stroke="#000" stroke-width="2" />
<line x1="241.15" y1="416.40" x2="241.15" y2="426.40" stroke="#000" stroke-width="2" />
<line x1="251.66" y1="416.40" x2="251.66" y2="421.60" stroke="#000" stroke-width="2" />
<line x1="262.17" y1="416.40" x2="262.17" y2="421.60" stroke="#000" stroke-width="2" />
<line x1="272.69" y1="416.40" x2="272.69" y2="421.60" stroke="#000" stroke-width="2" />
<line x1="283.20" y1="416.40" x2="283.20" y2="426.40" stroke="#000" stroke-width="2" />
<line x1="293.71" y1="416.40" x2="293.71" y2="421.60" stroke="#000" stroke-width="2" />
<line x1="304.23" y1="416.40" x2="304.23" y2="421.60" stroke="#000" stroke-width="2" />
<line x1="314.74" y1="416.40" x2="314.74" y2="421.60" stroke="#000" stroke-width="2" />
<line x1="325.25" y1="416.40" x2="325.25" y2="426.40" stroke="#000" stroke-width="2" />
<line x1="335.76" y1="416.40" x2="335.76" y2="421.60" stroke="#000" stroke-width="2" />
<line x1="346.27" y1="416.40" x2="346.27" y2="421.60" stroke="#000" stroke-width="2" />
<line x1="356.79" y1="416.40" x2="356.79" y2="421.60" stroke="#000" stroke-width="2" />
<line x1="367.30" y1="416.40" x2="367.30" y2="426.40" stroke="#000" stroke-width="2" />
<line x1="377.81" y1="416.40" x2="377.81" y2="421.60" stroke="#000" stroke-width="2" />
<line x1="388.32" y1="416.40" x2="388.32" y2="421.60" stroke="#000" stroke-width="2" />
<line x1="398.84" y1="416.40" x2="398.84" y2="421.60" stroke="#000" stroke-width="2" />
<line x1="409.35" y1="416.40" x2="409.35" y2="426.40" stroke="#000" stroke-width="2" />
<line x1="419.86" y1="416.40" x2="419.86" y2="421.60" stroke="#000" stroke-width="2" />
<line x1="430.38" y1="416.40" x2="430.38" y2="421.60" stroke="#000" stroke-width="2" />
<line x1="440.89" y1="416.40" x2="440.89" y2="421.60" stroke="#000" stroke-width="2" />
<line x1="451.40" y1="416.40" x2="451.40" y2="426.40" stroke="#000" stroke-width="2" />
<line x1="461.91" y1="416.40" x2="461.91" y2="421.60" stroke="#000" stroke-width="2" />
<line x1="472.42" y1="416.40" x2="472.42" y2="421.60" stroke="#000" stroke-width="2" />
<line x1="482.94" y1="416.40" x2="482.94" y2="421.60" stroke="#000" stroke-width="2" />
<line x1="493.45" y1="416.40" x2="493.45" y2="426.40" stroke="#000" stroke-width="2" />
<line x1="503.96" y1="416.40" x2="503.96" y2="421.60" stroke="#000" stroke-width="2" />
<line x1="514.47" y1="416.40" x2="514.47" y2="421.60" stroke="#000" stroke-width="2" />
<line x1="524.99" y1="416.40" x2="524.99" y2="421.60" stroke="#000" stroke-width="2" />
<line x1="535.50" y1="416.40" x2="535.50" y2="426.40" stroke="#000" stroke-width="2" />
<line x1="546.01" y1="416.40" x2="546.01" y2="421.60" stroke="#000" stroke-width="2" />
<line x1="556.52" y1="416.40" x2="556.52" y2="421.60" stroke="#000" stroke-width="2" />
<line x1="567.04" y1="416.40" x2="567.04" y2="421.60" stroke="#000" stroke-width="2" />
<line x1="577.55" y1="416.40" x2="577.55" y2="426.40" stroke="#000" stroke-width="2" />
<line x1="588.06" y1="416.40" x2="588.06" y2="421.60" stroke="#000" stroke-width="2" />
<line x1="598.58" y1="416.40" x2="598.58" y2="421.60" stroke="#000" stroke-width="2" />
<line x1="609.09" y1="416.40" x2="609.09" y2="421.60" stroke="#000" stroke-width="2" />
<line x1="110.00" y1="234.20" x2="110.00" y2="417.40" stroke="#a67f1f" stroke-width="2.2" />
<line x1="99.40" y1="416.40" x2="110.00" y2="416.40" stroke="#a67f1f" stroke-width="2" />
<text transform="translate(96.50 422.20) scale(1 1.04)" font-size="20.4" fill="#a67f1f" text-anchor="end" font-weight="normal" >0.0</text>
<line x1="99.40" y1="371.10" x2="110.00" y2="371.10" stroke="#a67f1f" stroke-width="2" />
<text transform="translate(96.50 376.90) scale(1 1.04)" font-size="20.4" fill="#a67f1f" text-anchor="end" font-weight="normal" >0.2</text>
<line x1="99.40" y1="325.80" x2="110.00" y2="325.80" stroke="#a67f1f" stroke-width="2" />
<text transform="translate(96.50 331.60) scale(1 1.04)" font-size="20.4" fill="#a67f1f" text-anchor="end" font-weight="normal" >0.4</text>
<line x1="99.40" y1="280.50" x2="110.00" y2="280.50" stroke="#a67f1f" stroke-width="2" />
<text transform="translate(96.50 286.30) scale(1 1.04)" font-size="20.4" fill="#a67f1f" text-anchor="end" font-weight="normal" >0.6</text>
<line x1="99.40" y1="235.20" x2="110.00" y2="235.20" stroke="#a67f1f" stroke-width="2" />
<text transform="translate(96.50 241.00) scale(1 1.04)" font-size="20.4" fill="#a67f1f" text-anchor="end" font-weight="normal" >0.8</text>
<line x1="104.40" y1="407.34" x2="110.00" y2="407.34" stroke="#a67f1f" stroke-width="2" />
<line x1="104.40" y1="398.28" x2="110.00" y2="398.28" stroke="#a67f1f" stroke-width="2" />
<line x1="104.40" y1="389.22" x2="110.00" y2="389.22" stroke="#a67f1f" stroke-width="2" />
<line x1="104.40" y1="380.16" x2="110.00" y2="380.16" stroke="#a67f1f" stroke-width="2" />
<line x1="104.40" y1="362.04" x2="110.00" y2="362.04" stroke="#a67f1f" stroke-width="2" />
<line x1="104.40" y1="352.98" x2="110.00" y2="352.98" stroke="#a67f1f" stroke-width="2" />
<line x1="104.40" y1="343.92" x2="110.00" y2="343.92" stroke="#a67f1f" stroke-width="2" />
<line x1="104.40" y1="334.86" x2="110.00" y2="334.86" stroke="#a67f1f" stroke-width="2" />
<line x1="104.40" y1="316.74" x2="110.00" y2="316.74" stroke="#a67f1f" stroke-width="2" />
<line x1="104.40" y1="307.68" x2="110.00" y2="307.68" stroke="#a67f1f" stroke-width="2" />
<line x1="104.40" y1="298.62" x2="110.00" y2="298.62" stroke="#a67f1f" stroke-width="2" />
<line x1="104.40" y1="289.56" x2="110.00" y2="289.56" stroke="#a67f1f" stroke-width="2" />
<line x1="104.40" y1="271.44" x2="110.00" y2="271.44" stroke="#a67f1f" stroke-width="2" />
<line x1="104.40" y1="262.38" x2="110.00" y2="262.38" stroke="#a67f1f" stroke-width="2" />
<line x1="104.40" y1="253.32" x2="110.00" y2="253.32" stroke="#a67f1f" stroke-width="2" />
<line x1="104.40" y1="244.26" x2="110.00" y2="244.26" stroke="#a67f1f" stroke-width="2" />
<line x1="614.00" y1="234.20" x2="614.00" y2="417.40" stroke="#dcbc58" stroke-width="2.2" />
<line x1="614.00" y1="416.40" x2="624.60" y2="416.40" stroke="#dcbc58" stroke-width="2" />
<text transform="translate(626.50 422.20) scale(1 1.04)" font-size="20.4" fill="#dcbc58" text-anchor="start" font-weight="normal" >0.0</text>
<line x1="614.00" y1="344.10" x2="624.60" y2="344.10" stroke="#dcbc58" stroke-width="2" />
<text transform="translate(626.50 349.90) scale(1 1.04)" font-size="20.4" fill="#dcbc58" text-anchor="start" font-weight="normal" >0.1</text>
<line x1="614.00" y1="271.80" x2="624.60" y2="271.80" stroke="#dcbc58" stroke-width="2" />
<text transform="translate(626.50 277.60) scale(1 1.04)" font-size="20.4" fill="#dcbc58" text-anchor="start" font-weight="normal" >0.2</text>
<line x1="614.00" y1="401.94" x2="619.60" y2="401.94" stroke="#dcbc58" stroke-width="2" />
<line x1="614.00" y1="387.48" x2="619.60" y2="387.48" stroke="#dcbc58" stroke-width="2" />
<line x1="614.00" y1="373.02" x2="619.60" y2="373.02" stroke="#dcbc58" stroke-width="2" />
<line x1="614.00" y1="358.56" x2="619.60" y2="358.56" stroke="#dcbc58" stroke-width="2" />
<line x1="614.00" y1="329.64" x2="619.60" y2="329.64" stroke="#dcbc58" stroke-width="2" />
<line x1="614.00" y1="315.18" x2="619.60" y2="315.18" stroke="#dcbc58" stroke-width="2" />
<line x1="614.00" y1="300.72" x2="619.60" y2="300.72" stroke="#dcbc58" stroke-width="2" />
<line x1="614.00" y1="286.26" x2="619.60" y2="286.26" stroke="#dcbc58" stroke-width="2" />
<line x1="614.00" y1="257.34" x2="619.60" y2="257.34" stroke="#dcbc58" stroke-width="2" />
<line x1="614.00" y1="242.88" x2="619.60" y2="242.88" stroke="#dcbc58" stroke-width="2" />
<line x1="109.00" y1="446.30" x2="615.00" y2="446.30" stroke="#000" stroke-width="2" />
<line x1="109.00" y1="627.40" x2="615.00" y2="627.40" stroke="#000" stroke-width="2" />
<line x1="115.00" y1="627.40" x2="115.00" y2="637.40" stroke="#000" stroke-width="2" />
<line x1="125.51" y1="627.40" x2="125.51" y2="632.60" stroke="#000" stroke-width="2" />
<line x1="136.03" y1="627.40" x2="136.03" y2="632.60" stroke="#000" stroke-width="2" />
<line x1="146.54" y1="627.40" x2="146.54" y2="632.60" stroke="#000" stroke-width="2" />
<line x1="157.05" y1="627.40" x2="157.05" y2="637.40" stroke="#000" stroke-width="2" />
<line x1="167.56" y1="627.40" x2="167.56" y2="632.60" stroke="#000" stroke-width="2" />
<line x1="178.07" y1="627.40" x2="178.07" y2="632.60" stroke="#000" stroke-width="2" />
<line x1="188.59" y1="627.40" x2="188.59" y2="632.60" stroke="#000" stroke-width="2" />
<line x1="199.10" y1="627.40" x2="199.10" y2="637.40" stroke="#000" stroke-width="2" />
<line x1="209.61" y1="627.40" x2="209.61" y2="632.60" stroke="#000" stroke-width="2" />
<line x1="220.12" y1="627.40" x2="220.12" y2="632.60" stroke="#000" stroke-width="2" />
<line x1="230.64" y1="627.40" x2="230.64" y2="632.60" stroke="#000" stroke-width="2" />
<line x1="241.15" y1="627.40" x2="241.15" y2="637.40" stroke="#000" stroke-width="2" />
<line x1="251.66" y1="627.40" x2="251.66" y2="632.60" stroke="#000" stroke-width="2" />
<line x1="262.17" y1="627.40" x2="262.17" y2="632.60" stroke="#000" stroke-width="2" />
<line x1="272.69" y1="627.40" x2="272.69" y2="632.60" stroke="#000" stroke-width="2" />
<line x1="283.20" y1="627.40" x2="283.20" y2="637.40" stroke="#000" stroke-width="2" />
<line x1="293.71" y1="627.40" x2="293.71" y2="632.60" stroke="#000" stroke-width="2" />
<line x1="304.23" y1="627.40" x2="304.23" y2="632.60" stroke="#000" stroke-width="2" />
<line x1="314.74" y1="627.40" x2="314.74" y2="632.60" stroke="#000" stroke-width="2" />
<line x1="325.25" y1="627.40" x2="325.25" y2="637.40" stroke="#000" stroke-width="2" />
<line x1="335.76" y1="627.40" x2="335.76" y2="632.60" stroke="#000" stroke-width="2" />
<line x1="346.27" y1="627.40" x2="346.27" y2="632.60" stroke="#000" stroke-width="2" />
<line x1="356.79" y1="627.40" x2="356.79" y2="632.60" stroke="#000" stroke-width="2" />
<line x1="367.30" y1="627.40" x2="367.30" y2="637.40" stroke="#000" stroke-width="2" />
<line x1="377.81" y1="627.40" x2="377.81" y2="632.60" stroke="#000" stroke-width="2" />
<line x1="388.32" y1="627.40" x2="388.32" y2="632.60" stroke="#000" stroke-width="2" />
<line x1="398.84" y1="627.40" x2="398.84" y2="632.60" stroke="#000" stroke-width="2" />
<line x1="409.35" y1="627.40" x2="409.35" y2="637.40" stroke="#000" stroke-width="2" />
<line x1="419.86" y1="627.40" x2="419.86" y2="632.60" stroke="#000" stroke-width="2" />
<line x1="430.38" y1="627.40" x2="430.38" y2="632.60" stroke="#000" stroke-width="2" />
<line x1="440.89" y1="627.40" x2="440.89" y2="632.60" stroke="#000" stroke-width="2" />
<line x1="451.40" y1="627.40" x2="451.40" y2="637.40" stroke="#000" stroke-width="2" />
<line x1="461.91" y1="627.40" x2="461.91" y2="632.60" stroke="#000" stroke-width="2" />
<line x1="472.42" y1="627.40" x2="472.42" y2="632.60" stroke="#000" stroke-width="2" />
<line x1="482.94" y1="627.40" x2="482.94" y2="632.60" stroke="#000" stroke-width="2" />
<line x1="493.45" y1="627.40" x2="493.45" y2="637.40" stroke="#000" stroke-width="2" />
<line x1="503.96" y1="627.40" x2="503.96" y2="632.60" stroke="#000" stroke-width="2" />
<line x1="514.47" y1="627.40" x2="514.47" y2="632.60" stroke="#000" stroke-width="2" />
<line x1="524.99" y1="627.40" x2="524.99" y2="632.60" stroke="#000" stroke-width="2" />
<line x1="535.50" y1="627.40" x2="535.50" y2="637.40" stroke="#000" stroke-width="2" />
<line x1="546.01" y1="627.40" x2="546.01" y2="632.60" stroke="#000" stroke-width="2" />
<line x1="556.52" y1="627.40" x2="556.52" y2="632.60" stroke="#000" stroke-width="2" />
<line x1="567.04" y1="627.40" x2="567.04" y2="632.60" stroke="#000" stroke-width="2" />
<line x1="577.55" y1="627.40" x2="577.55" y2="637.40" stroke="#000" stroke-width="2" />
<line x1="588.06" y1="627.40" x2="588.06" y2="632.60" stroke="#000" stroke-width="2" />
<line x1="598.58" y1="627.40" x2="598.58" y2="632.60" stroke="#000" stroke-width="2" />
<line x1="609.09" y1="627.40" x2="609.09" y2="632.60" stroke="#000" stroke-width="2" />
<line x1="110.00" y1="445.30" x2="110.00" y2="628.40" stroke="#6618d4" stroke-width="2.2" />
<line x1="99.40" y1="626.80" x2="110.00" y2="626.80" stroke="#6618d4" stroke-width="2" />
<text transform="translate(96.50 632.60) scale(1 1.04)" font-size="20.4" fill="#6618d4" text-anchor="end" font-weight="normal" >0.0</text>
<line x1="99.40" y1="584.90" x2="110.00" y2="584.90" stroke="#6618d4" stroke-width="2" />
<text transform="translate(96.50 590.70) scale(1 1.04)" font-size="20.4" fill="#6618d4" text-anchor="end" font-weight="normal" >0.1</text>
<line x1="99.40" y1="543.00" x2="110.00" y2="543.00" stroke="#6618d4" stroke-width="2" />
<text transform="translate(96.50 548.80) scale(1 1.04)" font-size="20.4" fill="#6618d4" text-anchor="end" font-weight="normal" >0.2</text>
<line x1="99.40" y1="501.10" x2="110.00" y2="501.10" stroke="#6618d4" stroke-width="2" />
<text transform="translate(96.50 506.90) scale(1 1.04)" font-size="20.4" fill="#6618d4" text-anchor="end" font-weight="normal" >0.3</text>
<line x1="99.40" y1="459.20" x2="110.00" y2="459.20" stroke="#6618d4" stroke-width="2" />
<text transform="translate(96.50 465.00) scale(1 1.04)" font-size="20.4" fill="#6618d4" text-anchor="end" font-weight="normal" >0.4</text>
<line x1="104.40" y1="605.85" x2="110.00" y2="605.85" stroke="#6618d4" stroke-width="2" />
<line x1="104.40" y1="563.95" x2="110.00" y2="563.95" stroke="#6618d4" stroke-width="2" />
<line x1="104.40" y1="522.05" x2="110.00" y2="522.05" stroke="#6618d4" stroke-width="2" />
<line x1="104.40" y1="480.15" x2="110.00" y2="480.15" stroke="#6618d4" stroke-width="2" />
<line x1="614.00" y1="445.30" x2="614.00" y2="628.40" stroke="#b46af5" stroke-width="2.2" />
<line x1="614.00" y1="627.40" x2="624.60" y2="627.40" stroke="#b46af5" stroke-width="2" />
<text transform="translate(625.20 633.20) scale(1 1.04)" font-size="20.4" fill="#b46af5" text-anchor="start" font-weight="normal" >0.0</text>
<line x1="614.00" y1="566.80" x2="624.60" y2="566.80" stroke="#b46af5" stroke-width="2" />
<text transform="translate(625.20 572.60) scale(1 1.04)" font-size="20.4" fill="#b46af5" text-anchor="start" font-weight="normal" >0.2</text>
<line x1="614.00" y1="506.20" x2="624.60" y2="506.20" stroke="#b46af5" stroke-width="2" />
<text transform="translate(625.20 512.00) scale(1 1.04)" font-size="20.4" fill="#b46af5" text-anchor="start" font-weight="normal" >0.4</text>
<line x1="614.00" y1="445.60" x2="624.60" y2="445.60" stroke="#b46af5" stroke-width="2" />
<text transform="translate(625.20 451.40) scale(1 1.04)" font-size="20.4" fill="#b46af5" text-anchor="start" font-weight="normal" >0.6</text>
<line x1="614.00" y1="597.10" x2="619.60" y2="597.10" stroke="#b46af5" stroke-width="2" />
<line x1="614.00" y1="536.50" x2="619.60" y2="536.50" stroke="#b46af5" stroke-width="2" />
<line x1="614.00" y1="475.90" x2="619.60" y2="475.90" stroke="#b46af5" stroke-width="2" />
<rect x="182" y="17" width="11" height="7.5" fill="#ec1f8c"/>
<rect x="224.3" y="17" width="11" height="7.5" fill="#7f8a1e"/>
<rect x="519.5" y="17" width="11" height="7.5" fill="#d2691e"/>
<rect x="603.8" y="17" width="10.6" height="7.5" fill="#7a1fa0"/>
<text transform="translate(145.30 16.80) scale(1 1.04)" font-size="18.8" fill="#000" text-anchor="start" font-weight="normal" >P1</text>
<text transform="translate(201.80 17.60) scale(1 1.04)" font-size="18.8" fill="#000" text-anchor="start" font-weight="normal" >P2</text>
<text transform="translate(348.80 19.40) scale(1 1.04)" font-size="18.8" fill="#000" text-anchor="start" font-weight="normal" >P3</text>
<text transform="translate(559.60 16.50) scale(1 1.04)" font-size="18.8" fill="#000" text-anchor="start" font-weight="normal" >P4</text>
<text transform="translate(107.5 19.5) scale(1 1.04)" font-size="15.5" fill="#4a7c14">×10<tspan font-size="10.4" dy="-6.2">9</tspan></text>
<text transform="translate(648.5 14.5) scale(1 1.04)" font-size="15.5" fill="#72b52a">×10<tspan font-size="10.4" dy="-6.2">9</tspan></text>
<text transform="translate(106.5 230.5) scale(1 1.04)" font-size="15.5" fill="#a67f1f">×10<tspan font-size="10.4" dy="-6.2">7</tspan></text>
<text transform="translate(652.5 230.5) scale(1 1.04)" font-size="15.5" fill="#dcbc58">×10<tspan font-size="10.4" dy="-6.2">7</tspan></text>
<text transform="translate(106 441.5) scale(1 1.04)" font-size="15.5" fill="#6618d4">×10<tspan font-size="10.4" dy="-6.2">9</tspan></text>
<text transform="translate(6.80 31.90) scale(1 1.04)" font-size="23" fill="#000" text-anchor="start" font-weight="normal" >(a)</text>
<text transform="translate(1.40 231.70) scale(1 1.04)" font-size="23" fill="#000" text-anchor="start" font-weight="normal" >(b)</text>
<text transform="translate(6.60 434.30) scale(1 1.04)" font-size="23" fill="#000" text-anchor="start" font-weight="normal" >(c)</text>
<text font-size="20.4" text-anchor="middle" transform="translate(57.2 115.7) rotate(-90) scale(1 1.04)">Peak area</text>
<text font-size="20.4" text-anchor="middle" transform="translate(682.2 115.7) rotate(-90) scale(1 1.04)">Peak area</text>
<text font-size="20.4" text-anchor="middle" transform="translate(55.8 327) rotate(-90) scale(1 1.04)">Peak area</text>
<text font-size="20.4" text-anchor="middle" transform="translate(682.5 326.3) rotate(-90) scale(1 1.04)">Peak area</text>
<text font-size="20.4" text-anchor="middle" transform="translate(57.2 527.9) rotate(-90) scale(1 1.04)">Peak area</text>
<text font-size="20.4" text-anchor="middle" transform="translate(682.8 527.4) rotate(-90) scale(1 1.04)">Ratio</text>
<text transform="translate(381.30 699.50) scale(1 1.04)" font-size="20.4" fill="#000" text-anchor="middle" font-weight="normal" >Date</text>
<text font-size="19.2" text-anchor="end" transform="translate(130.80 647.80) rotate(-45) scale(1 1.04)">1/13</text>
<text font-size="19.2" text-anchor="end" transform="translate(172.85 647.80) rotate(-45) scale(1 1.04)">1/14</text>
<text font-size="19.2" text-anchor="end" transform="translate(214.90 647.80) rotate(-45) scale(1 1.04)">1/15</text>
<text font-size="19.2" text-anchor="end" transform="translate(256.95 647.80) rotate(-45) scale(1 1.04)">1/16</text>
<text font-size="19.2" text-anchor="end" transform="translate(299.00 647.80) rotate(-45) scale(1 1.04)">1/17</text>
<text font-size="19.2" text-anchor="end" transform="translate(341.05 647.80) rotate(-45) scale(1 1.04)">1/18</text>
<text font-size="19.2" text-anchor="end" transform="translate(383.10 647.80) rotate(-45) scale(1 1.04)">1/19</text>
<text font-size="19.2" text-anchor="end" transform="translate(425.15 647.80) rotate(-45) scale(1 1.04)">1/20</text>
<text font-size="19.2" text-anchor="end" transform="translate(467.20 647.80) rotate(-45) scale(1 1.04)">1/21</text>
<text font-size="19.2" text-anchor="end" transform="translate(509.25 647.80) rotate(-45) scale(1 1.04)">1/22</text>
<text font-size="19.2" text-anchor="end" transform="translate(551.30 647.80) rotate(-45) scale(1 1.04)">1/23</text>
<text font-size="19.2" text-anchor="end" transform="translate(593.35 647.80) rotate(-45) scale(1 1.04)">1/24</text>
<text transform="translate(118.00 46.00) scale(1 1.04)" font-size="18" fill="#000" text-anchor="start" font-weight="bold" >ESI+</text>
<text transform="translate(118.00 258.00) scale(1 1.04)" font-size="18" fill="#000" text-anchor="start" font-weight="bold" >ESI-</text>
<text transform="translate(120.00 493.20) scale(1 1.04)" font-size="18" fill="#000" text-anchor="start" font-weight="bold" >ESI-</text>
<text transform="translate(240.80 50.80) scale(1 1.04)" font-size="16.45" fill="#000" text-anchor="start" font-weight="normal" >amine-involved polymerization</text>
<line x1="241.00" y1="53.50" x2="463.80" y2="53.50" stroke="#000" stroke-width="1.5" />
<text transform="translate(244.70 286.60) scale(1 1.04)" font-size="16.45" fill="#000" text-anchor="start" font-weight="normal" >ring-opening fragmentation</text>
<line x1="244.90" y1="288.80" x2="443.20" y2="288.80" stroke="#000" stroke-width="1.5" />
<text transform="translate(243.40 501.90) scale(1 1.04)" font-size="16.45" fill="#000" text-anchor="start" font-weight="normal" >ring-retaining functionalization</text>
<line x1="243.40" y1="504.30" x2="463.60" y2="504.30" stroke="#000" stroke-width="1.5" />
<line x1="473.40" y1="42.70" x2="508.90" y2="42.70" stroke="#4a7c14" stroke-width="2.4" />
<line x1="472.30" y1="67.60" x2="507.60" y2="67.60" stroke="#72b52a" stroke-width="2.4" />
<text transform="translate(512.8 47.3) scale(1 1.04)" font-size="15.6">CHN<tspan font-size="10.3" dy="3.6">&lt;180Da</tspan></text>
<text transform="translate(511.6 72.1) scale(1 1.04)" font-size="15.5">CHON<tspan font-size="10.3" dy="3.6">&gt;275Da</tspan></text>
<line x1="177.20" y1="252.20" x2="215.30" y2="252.20" stroke="#a67f1f" stroke-width="2.4" />
<text transform="translate(219.00 257.60) scale(1 1.04)" font-size="16.7" fill="#000" text-anchor="start" font-weight="normal" >Nitrophenol</text>
<line x1="314.40" y1="252.00" x2="352.40" y2="252.00" stroke="#dcbc58" stroke-width="2.4" />
<text transform="translate(356.20 257.60) scale(1 1.04)" font-size="16.62" fill="#000" text-anchor="start" font-weight="normal" >small CHO with dicarboxylic acids</text>
<line x1="118.40" y1="463.40" x2="156.10" y2="463.40" stroke="#6618d4" stroke-width="2.4" />
<text transform="translate(160.00 469.20) scale(1 1.04)" font-size="16.6" fill="#000" text-anchor="start" font-weight="normal" >Nitro-aromatics</text>
<line x1="279.20" y1="463.40" x2="316.90" y2="463.40" stroke="#b46af5" stroke-width="2.4" />
<text transform="translate(321.20 469.20) scale(1 1.04)" font-size="16.6" fill="#000" text-anchor="start" font-weight="normal" >Fraction of nitro-aromatics with -COOH</text>
</svg></body></html>
